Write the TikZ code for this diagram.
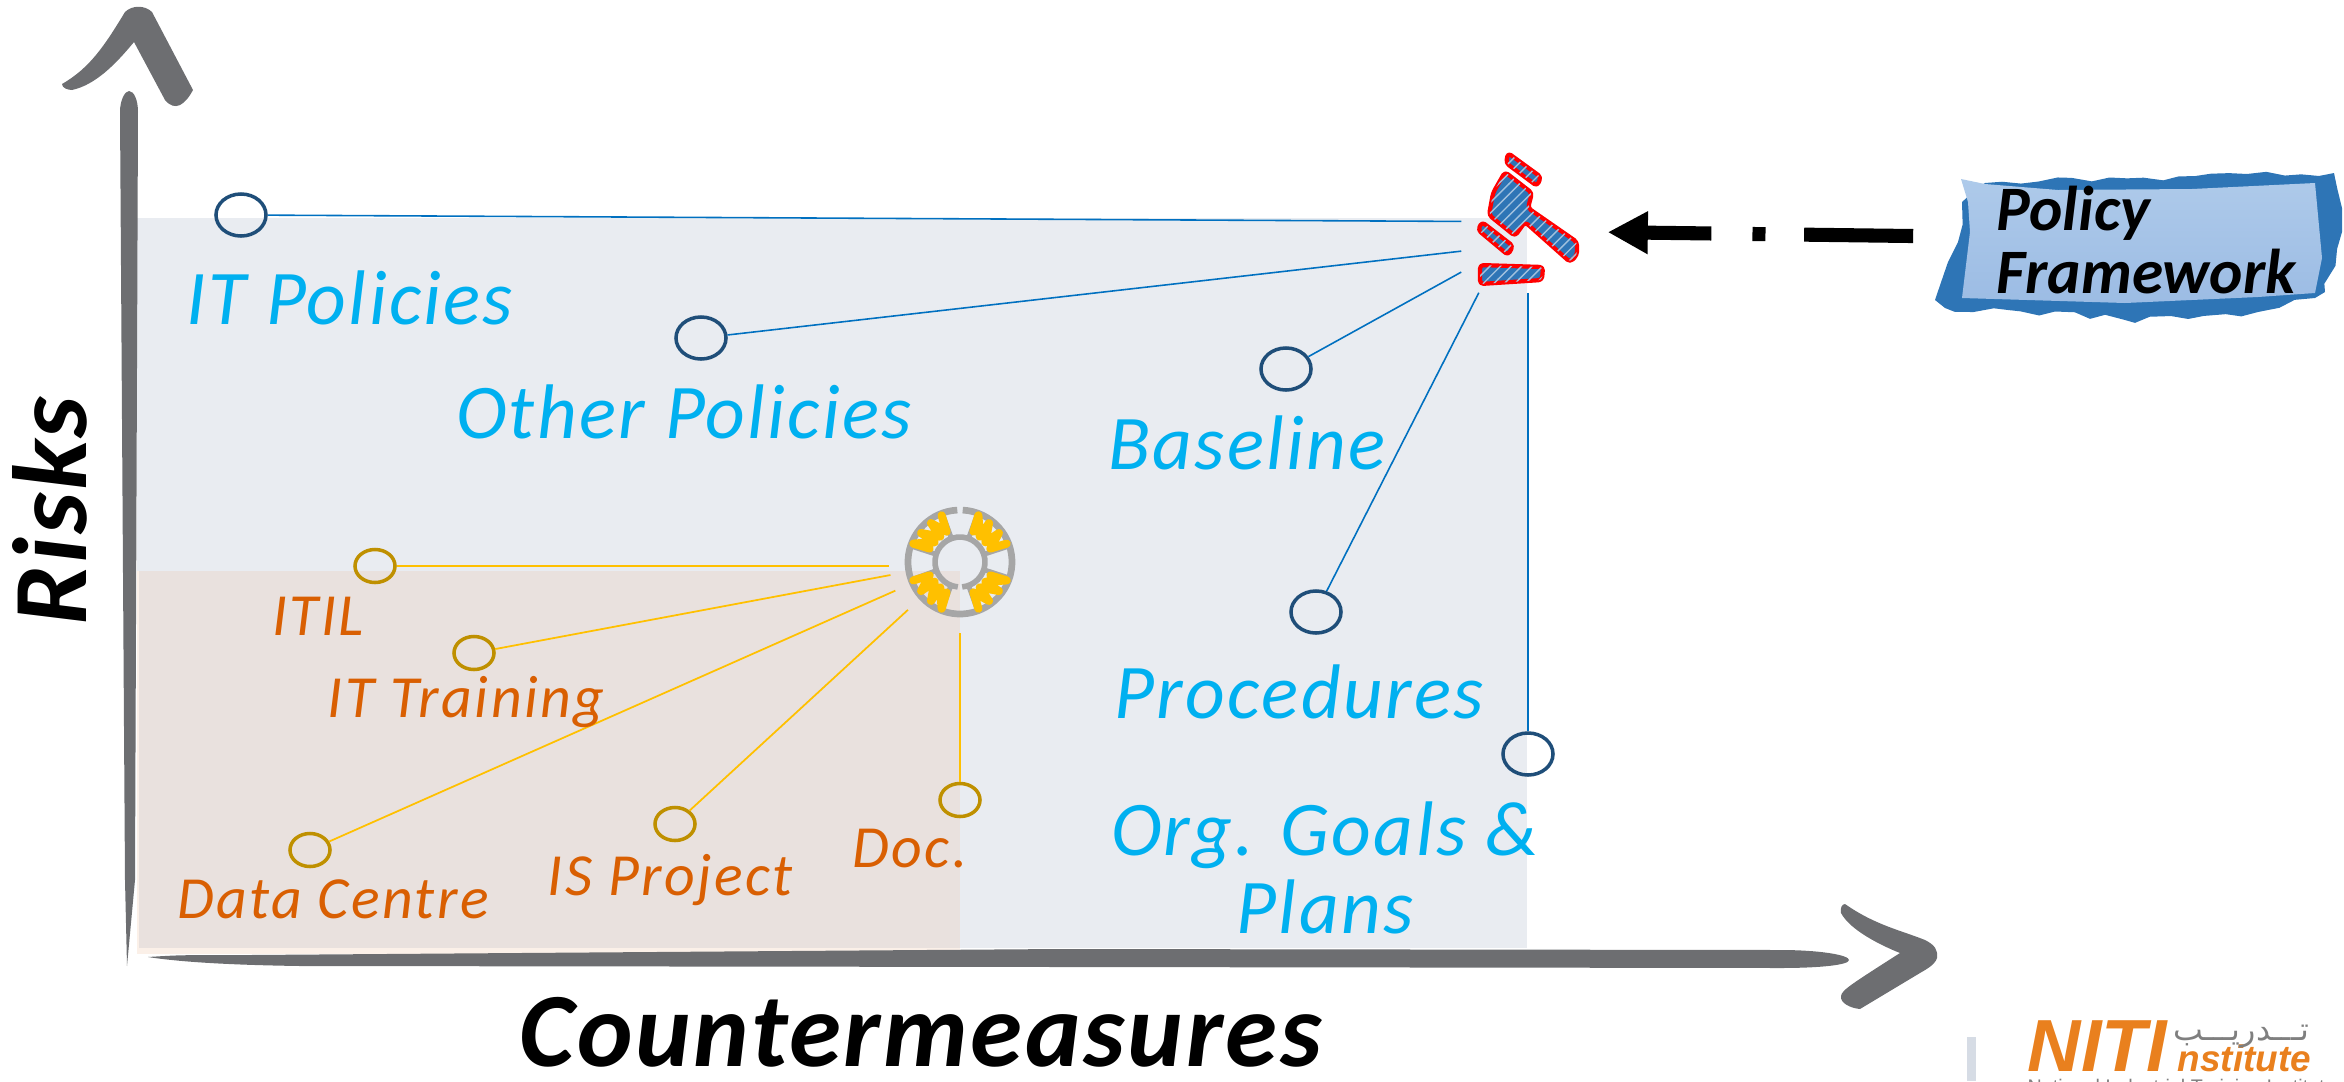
\documentclass[tikz,border=0pt]{standalone}
\usepackage{fontspec}
\setmainfont{Carlito}
\newfontfamily\logofont{Liberation Sans}
\newfontfamily\arabicfont[Script=Arabic]{DejaVu Sans}
\TeXXeTstate=1
\usetikzlibrary{shapes}
\usetikzlibrary{arrows.meta}
\usetikzlibrary{patterns}
\usetikzlibrary{decorations.pathmorphing}
\definecolor{axisgray}{HTML}{6D6E71}
\definecolor{planeblue}{HTML}{E9ECF1}
\definecolor{planeorange}{HTML}{E9E1DE}
\definecolor{planeedge}{HTML}{FBF0E8}
\definecolor{textblue}{HTML}{00B0F0}
\definecolor{textorange}{HTML}{D95F02}
\definecolor{dotblue}{HTML}{1F4E79}
\definecolor{dotorange}{HTML}{BF9000}
\definecolor{linkblue}{HTML}{0070C0}
\definecolor{linkorange}{HTML}{FFC000}
\definecolor{framblue}{HTML}{2E75B6}
\definecolor{framtop}{HTML}{AECAEA}
\definecolor{frambottom}{HTML}{9CBCE4}
\definecolor{ringgray}{HTML}{A6A6A6}
\definecolor{logoorange}{HTML}{E9801E}
\definecolor{logogray}{HTML}{7F7F7F}
\definecolor{logobar}{HTML}{D6DCE5}

\begin{document}
\begin{tikzpicture}[x=0.01cm,y=-0.01cm]
	\tikzstyle{every node}=[inner sep=0pt]
	\tikzstyle{bluedot}=[ellipse,draw=dotblue,line width=1pt,minimum width=0.5cm,minimum height=0.42cm]
	\tikzstyle{orangedot}=[ellipse,draw=dotorange,line width=1pt,minimum width=0.4cm,minimum height=0.33cm]
	\tikzstyle{bluelink}=[draw=linkblue,line width=0.45pt]
	\tikzstyle{orangelink}=[draw=linkorange,line width=0.5pt]
	\tikzstyle{bluelabel}=[text=textblue,align=center,font=\fontsize{22}{22}\selectfont\itshape\addfontfeature{LetterSpace=3}]
	\tikzstyle{orangelabel}=[text=textorange,font=\fontsize{17}{17}\selectfont\itshape\addfontfeature{LetterSpace=4}]
	\tikzstyle{blacklabel}=[text=black,font=\fontsize{30}{30}\selectfont\bfseries\itshape\addfontfeature{LetterSpace=2.5}]
	\tikzstyle{gavelpart}=[draw=red,line width=1.2pt,line join=round,fill=framblue,rounded corners=1pt,postaction={pattern=north east lines,pattern color=framblue!45!white}]
	\useasboundingbox (0,0) rectangle (2344,1081);

	\fill[planeedge] (137,571) rectangle (960,954);
	\fill[planeblue] (139,218) rectangle (1527,948);
	\fill[planeorange] (139,571) rectangle (960,948);
	\fill[planeblue] (137,218) rectangle (139,571);

	\fill[axisgray] (120,112) .. controls (120,100) and (125,91) .. (129,91) .. controls (134,91) and (138,100) .. (138,112) -- (135,880) -- (127,966) -- (125,880) -- cycle;
	\fill[axisgray] (62,84) .. controls (90,68) and (105,45) .. (125,12) .. controls (132,5) and (145,5) .. (152,12) -- (193,90) .. controls (185,105) and (175,112) .. (165,100) -- (134,42) .. controls (115,65) and (95,85) .. (72,90) .. controls (68,90) and (62,88) .. (62,84) -- cycle;
	\fill[axisgray] (148,957) .. controls (180,955) .. (250,955) -- (1060,949) -- (1780,950) .. controls (1820,950) and (1849,955) .. (1849,960) .. controls (1849,965) and (1820,968) .. (1780,968) -- (1060,967) -- (300,966) .. controls (230,965) and (180,962) .. (148,957) -- cycle;
	\fill[axisgray] (1845,904) .. controls (1875,925) and (1900,930) .. (1925,940) .. controls (1935,945) and (1938,950) .. (1937,958) .. controls (1935,965) and (1925,970) .. (1920,973) -- (1860,1009) .. controls (1850,1008) and (1840,1003) .. (1841,996) .. controls (1842,990) and (1850,985) .. (1900,953) .. controls (1880,945) and (1850,930) .. (1841,913) .. controls (1840,908) and (1842,904) .. (1845,904) -- cycle;

	\node[circle,minimum size=1.4cm] (ring) at (960,562) {};
	\node[rectangle,minimum width=1.32cm,minimum height=1.2cm] (gavel) at (1528,232) {};

	\node[bluedot] (itpol) at (241,215) {};
	\node[bluedot] (othpol) at (701,338) {};
	\node[bluedot] (basel) at (1286,369) {};
	\node[bluedot] (proc) at (1316,612) {};
	\node[bluedot] (orgpl) at (1528,754) {};
	\node[orangedot] (itil) at (375,566) {};
	\node[orangedot] (train) at (474,653) {};
	\node[orangedot] (datac) at (310,850) {};
	\node[orangedot] (ispro) at (675,824) {};
	\node[orangedot] (docu) at (960,800) {};

	\draw[bluelink] (itpol) -- (gavel.171);
	\draw[bluelink] (othpol) -- (gavel.196);
	\draw[bluelink] (basel) -- (gavel.211);
	\draw[bluelink] (proc) -- (gavel.231);
	\draw[bluelink] (orgpl) -- (gavel.south);
	\draw[orangelink] (itil.east) -- (itil.east -| ring.west);
	\draw[orangelink] (train) -- (ring);
	\draw[orangelink] (datac) -- (ring);
	\draw[orangelink] (ispro) -- (ring);
	\draw[orangelink] (docu) -- (ring);

	\node[bluelabel] (itpoltext) at (350,298) {IT Policies};
	\node[bluelabel] (othpoltext) at (684,412) {Other Policies};
	\node[bluelabel] (baseltext) at (1247,443) {Baseline};
	\node[bluelabel] (proctext) at (1299,692) {Procedures};
	\node[bluelabel] (orgpltext) at (1325,868) {Org. Goals \&\\Plans};
	\node[orangelabel] (itiltext) at (318,616) {ITIL};
	\node[orangelabel] (traintext) at (466,702) {IT Training};
	\node[orangelabel] (dataotext) at (333,899) {Data Centre};
	\node[orangelabel] (isprotext) at (670,880) {IS Project};
	\node[orangelabel] (docutext) at (910,849) {Doc.};
	\node[blacklabel,rotate=90] (riskstext) at (50,511) {Risks};
	\node[blacklabel] (countertext) at (921,1032) {Countermeasures};

	\foreach \ang in {160,111,70,18,-18,-70,-110,-162}
		\draw[ringgray,line width=1.4pt] (ring) ++(\ang:25) -- ++(\ang:27);
	\draw[ringgray,line width=1.9pt] (ring) ++(-87:52) arc (-87:267:52);
	\draw[ringgray,line width=1.6pt] (ring) ++(95:25) arc (95:445:25);
	\foreach \ang in {45,135,225,315}
		\draw[shift={(ring)},rotate=\ang,linkorange,line width=2.3pt,line cap=round,line join=round] (31,-12) -- (46,-20) -- (32,-4) -- (48,-7) -- (32,4) -- (48,7) -- (31,12) -- (46,20);

	\path[gavelpart] (1508,153) -- (1541,177) -- (1537,186) -- (1506,163) -- cycle;
	\path[gavelpart] (1505,172) -- (1532,193) -- (1528,208) -- (1577,242) -- (1577,255) -- (1570,262) -- (1525,222) -- (1515,236) -- (1489,215) -- (1493,193) -- cycle;
	\path[gavelpart] (1482,222) -- (1513,246) -- (1508,255) -- (1478,230) -- cycle;
	\path[gavelpart] (1480,265) -- (1543,267) -- (1542,280) -- (1480,284) -- cycle;

	\pgfmathsetseed{7}
	\fill[framblue,decorate,decoration={random steps,segment length=5pt,amplitude=1pt}] (1985,183) -- (2334,173) -- (2342,232) -- (2325,292) -- (2315,298) -- (2258,312) -- (2125,320) -- (2008,310) -- (1945,308) -- (1935,300) -- (1948,262) -- (1958,242) -- (1962,202) -- cycle;
	\shade[top color=framtop,bottom color=frambottom] (1961,179) -- (1985,184) -- (2058,190) -- (2192,189) -- (2315,183) -- (2322,258) -- (2315,293) -- (2258,297) -- (2125,303) -- (1962,298) -- (1970,232) -- (1968,202) -- cycle;
	\node[text=black,text width=3cm,inner xsep=0.61cm,align=left,font=\fontsize{18}{18}\selectfont\bfseries\itshape] (policy) at (2147,240) {Policy\\Framework};
	\draw[line width=4pt,dash pattern=on 31pt off 11pt on 3.7pt off 11.7pt on 40pt off 10pt,shorten <=0.22cm,shorten >=0.13cm,-{Triangle[length=11.4pt,width=11.4pt]}] (policy.179) -- (gavel.east);

	\fill[logobar] (1967,1037) rectangle (1976,1081);
	\node[text=logoorange,anchor=base west,font=\logofont\fontsize{21}{21}\selectfont\bfseries\itshape] (logoniti) at (2027,1071) {NITI};
	\node[text=logoorange,anchor=base west,font=\logofont\fontsize{10.5}{10.5}\selectfont\bfseries\itshape] (logoinst) at (2177,1071) {nstitute};
	\node[text=logogray,anchor=base east,font=\arabicfont\fontsize{9}{9}\selectfont] (logoarab) at (2310,1040) {\beginR تـــدريـــب\endR};
	\node[text=logogray,anchor=north west,font=\logofont\fontsize{5.6}{6}\selectfont] (logoname) at (2027,1078.5) {National Industrial Training Institute};
\end{tikzpicture}
\end{document}
